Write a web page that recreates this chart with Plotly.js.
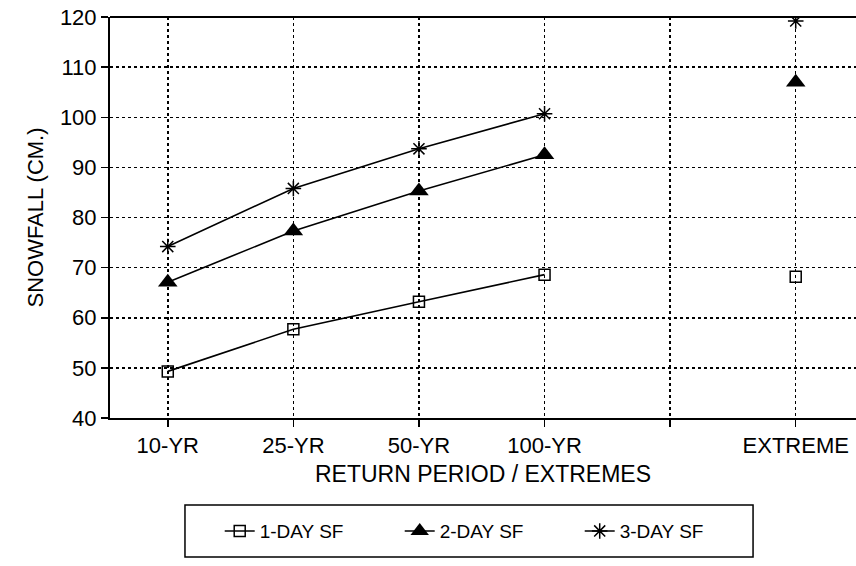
<!DOCTYPE html>
<html>
<head>
<meta charset="utf-8">
<script src="https://cdn.plot.ly/plotly-3.0.1.min.js"></script>
<style>html,body{margin:0;padding:0;background:#fff;}#chart{width:856px;height:566px;}</style>
</head>
<body>
<div id="chart"></div>
<script>
const categories = ['10-YR', '25-YR', '50-YR', '100-YR', '', 'EXTREME'];
const xIndex = [0, 1, 2, 3, 4, 5];
const oneDay = [49.3, 57.7, 63.2, 68.6, null, 68.2];
const twoDay = [67.1, 77.3, 85.3, 92.5, null, 107.0];
const threeDay = [74.2, 85.8, 93.7, 100.7, null, 119.2];
const seriesNames = ['1-DAY SF', '2-DAY SF', '3-DAY SF'];
const yTicks = [40, 50, 60, 70, 80, 90, 100, 110, 120];

const font = {family: 'Liberation Sans, Arial, sans-serif', color: '#000'};
const lineStyle = {color: '#000', width: 1.6};

const traces = [
  {x: xIndex, y: oneDay, name: seriesNames[0], mode: 'lines+markers', connectgaps: false,
   line: lineStyle, marker: {symbol: 'square-open', size: 11, color: '#000', line: {width: 1.5, color: '#000'}}},
  {x: xIndex, y: twoDay, name: seriesNames[1], mode: 'lines+markers', connectgaps: false,
   line: lineStyle, marker: {symbol: 'triangle-up', size: 17, color: '#000'}},
  {x: xIndex, y: threeDay, name: seriesNames[2], mode: 'lines+markers', connectgaps: false,
   line: lineStyle, marker: {symbol: 'asterisk-open', size: 13, color: '#000', line: {width: 1.5, color: '#000'}}}
];

const layout = {
  width: 856, height: 566,
  margin: {l: 110, r: 0, t: 17, b: 148},
  paper_bgcolor: '#fff', plot_bgcolor: '#fff',
  font: Object.assign({size: 22}, font),
  showlegend: true,
  legend: {orientation: 'h', x: 0.509, xanchor: 'center', y: -0.282, yanchor: 'middle',
           bgcolor: 'rgba(0,0,0,0)', borderwidth: 0, font: Object.assign({size: 19}, font),
           entrywidth: 135, tracegroupgap: 0},
  xaxis: {
    range: [-0.46, 5.48], tickmode: 'array', tickvals: xIndex, ticktext: categories,
    showline: true, linecolor: '#000', linewidth: 2, mirror: false,
    ticks: 'outside', ticklen: 7, tickcolor: '#000', tickwidth: 1.5,
    showgrid: true, gridcolor: '#000', griddash: 'dot', gridwidth: 1.5,
    zeroline: false, tickfont: Object.assign({size: 22}, font),
    title: {text: 'RETURN PERIOD / EXTREMES', font: Object.assign({size: 23}, font), standoff: 8}
  },
  yaxis: {
    range: [40, 120], tickmode: 'array', tickvals: yTicks,
    showline: true, linecolor: '#000', linewidth: 2,
    ticks: 'outside', ticklen: 7, tickcolor: '#000', tickwidth: 1.5,
    showgrid: true, gridcolor: '#000', griddash: 'dot', gridwidth: 1.5,
    zeroline: false, tickfont: Object.assign({size: 22}, font),
    title: {text: 'SNOWFALL (CM.)', font: Object.assign({size: 22}, font), standoff: 10}
  },
  shapes: [
    {type: 'line', xref: 'paper', yref: 'paper', x0: 0, x1: 1, y0: 1, y1: 1, line: {color: '#000', width: 2}},
    {type: 'rect', xref: 'paper', yref: 'paper', x0: 0.1005, x1: 0.862, y0: -0.3466, y1: -0.217,
     line: {color: '#000', width: 1.5}, fillcolor: 'rgba(0,0,0,0)'}
  ]
};

Plotly.newPlot('chart', traces, layout, {displayModeBar: false, staticPlot: true});
</script>
</body>
</html>
